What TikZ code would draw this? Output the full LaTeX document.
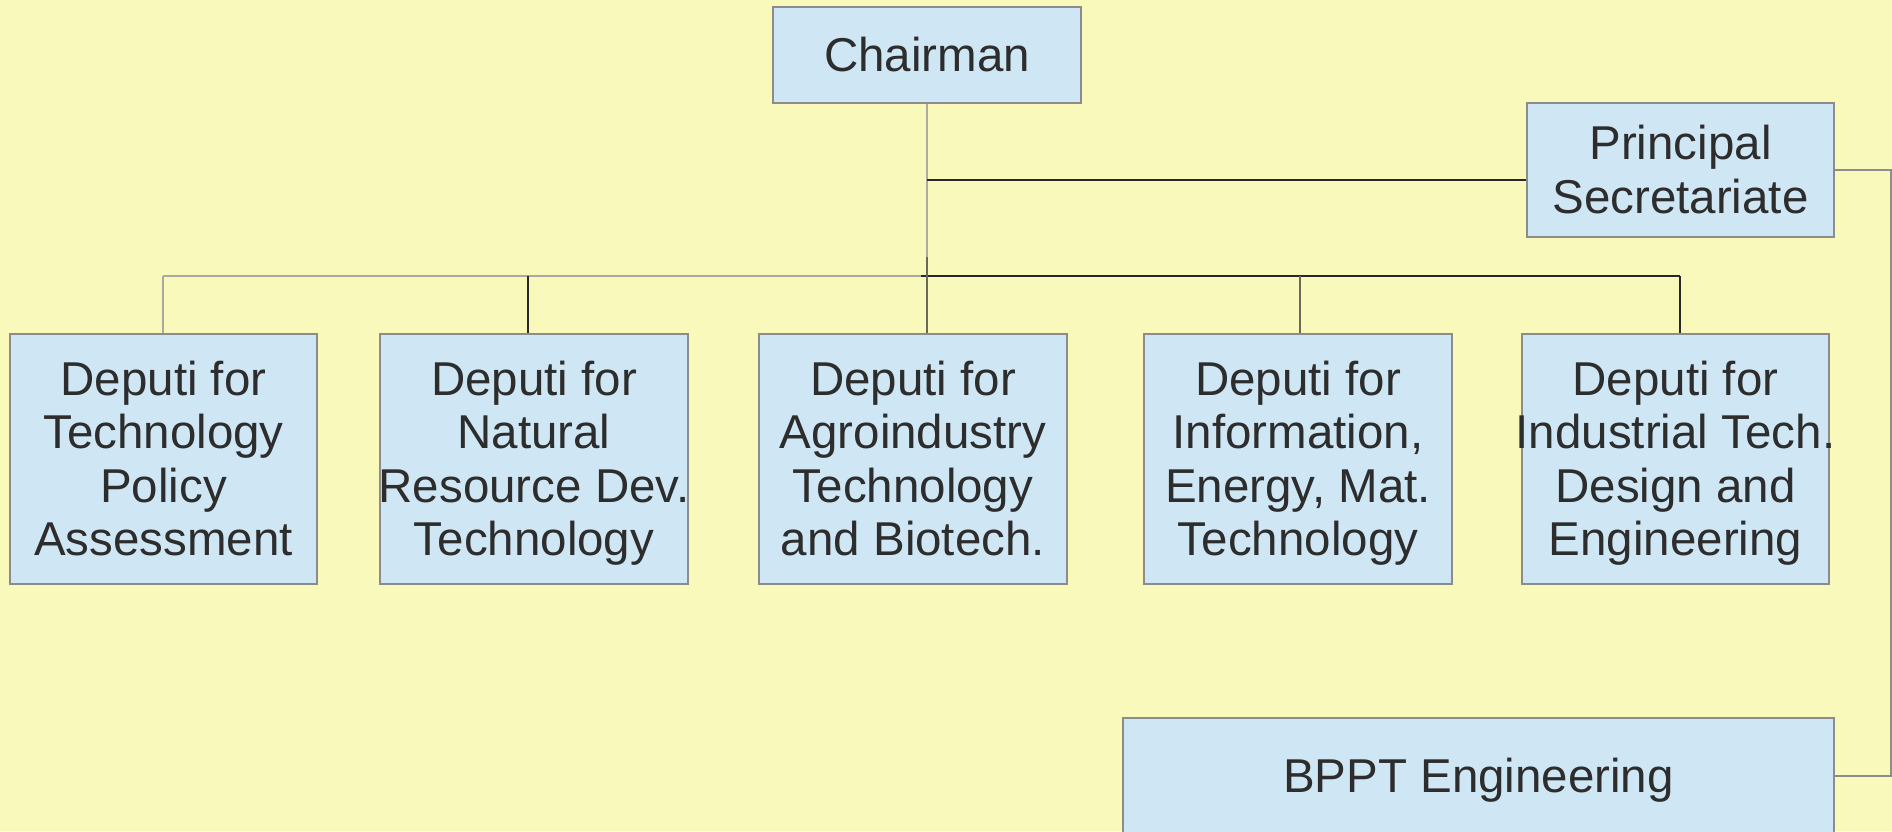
\documentclass[tikz,border=0pt]{standalone}
\usepackage{fontspec}
\setmainfont{Liberation Sans}
\definecolor{bg}{RGB}{249,249,187}
\definecolor{boxfill}{RGB}{207,230,244}
\definecolor{boxline}{RGB}{140,140,140}
\definecolor{txt}{RGB}{45,45,45}
\definecolor{lightln}{RGB}{170,170,160}
\definecolor{darkln}{RGB}{40,40,40}
\definecolor{midln}{RGB}{105,105,90}
\newcommand{\mylines}[1]{\raisebox{-3pt}[\height][\depth]{\makebox[0pt][c]{\def\arraystretch{1}\begin{tabular}{@{}c@{}}#1\end{tabular}}}}
\begin{document}
\begin{tikzpicture}[x=0.5pt,y=-0.5pt,
  orgbox/.style={draw=boxline, fill=boxfill, line width=0.6pt, inner sep=0pt,
    text=txt, font=\fontsize{23.75}{26.75}\selectfont, rectangle},
  lnlight/.style={draw=lightln, line width=0.7pt},
  lndark/.style={draw=darkln, line width=0.7pt},
  lnmid/.style={draw=midln, line width=0.8pt},
  lngray/.style={draw=boxline, line width=0.7pt}]
\fill[bg] (0,0) rectangle (1892,831);
\useasboundingbox (0,0) rectangle (1892,831);

\node[orgbox, minimum width=154pt, minimum height=48pt] (chair) at (927,55) {\mylines{Chairman}};
\node[orgbox, minimum width=153.5pt, minimum height=67pt] (ps) at (1680.5,170) {\mylines{Principal\\Secretariate}};

\node[orgbox, minimum width=153.5pt, minimum height=125pt] (d1) at (163.5,459) {\mylines{Deputi for\\Technology\\Policy\\Assessment}};
\node[orgbox, minimum width=154pt, minimum height=125pt] (d2) at (534,459) {\mylines{Deputi for\\Natural\\Resource Dev.\\Technology}};
\node[orgbox, minimum width=154pt, minimum height=125pt] (d3) at (913,459) {\mylines{Deputi for\\Agroindustry\\Technology\\and Biotech.}};
\node[orgbox, minimum width=154pt, minimum height=125pt] (d4) at (1298,459) {\mylines{Deputi for\\Information,\\Energy, Mat.\\Technology}};
\node[orgbox, minimum width=153.5pt, minimum height=125pt] (d5) at (1675.5,459) {\mylines{Deputi for\\Industrial Tech.\\Design and\\Engineering}};

\node[orgbox, minimum width=355.5pt, minimum height=58pt] (bppt) at (1478.5,776) {\mylines{BPPT Engineering}};

\coordinate (hub) at (927,276);
\coordinate (hubup) at (927,257);
\coordinate (psj) at (927,180);
\coordinate (bus1) at (163,276);
\coordinate (busmid) at (921,276);
\coordinate (bus2) at (528,276);
\coordinate (bus4) at (1300,276);
\coordinate (bus5) at (1680,276);
\coordinate (rside) at (1891,0);

\draw[lnlight] (chair.south) -- (hub);
\draw[lndark] (psj) -- (psj -| ps.west);
\draw[lnlight] (bus1) -- (busmid);
\draw[lndark] (busmid) -- (bus5);
\draw[lnmid] (hubup) -- (hubup |- d3.north);
\draw[lnlight] (bus1) -- (bus1 |- d1.north);
\draw[lndark] (bus2) -- (bus2 |- d2.north);
\draw[lnmid] (bus4) -- (bus4 |- d4.north);
\draw[lndark] (bus5) -- (bus5 |- d5.north);
\draw[lngray] (ps.east) -- (ps.east -| rside) -- (bppt.east -| rside) -- (bppt.east);
\end{tikzpicture}
\end{document}
